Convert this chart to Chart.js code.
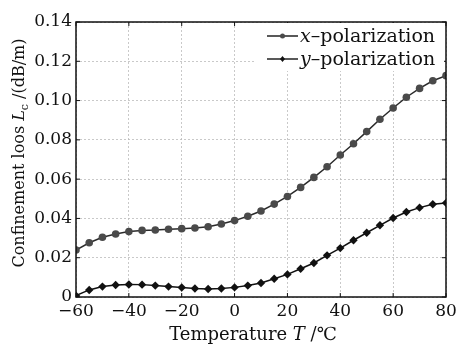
<!DOCTYPE html>
<html>
<head>
<meta charset="utf-8">
<script src="https://cdn.jsdelivr.net/npm/chart.js@4.4.0/dist/chart.umd.min.js"></script>
<style>
  html, body { margin: 0; padding: 0; background: #fff; }
  #wrap { width: 456px; height: 346px; }
</style>
</head>
<body>
<div id="wrap"><canvas id="chart" width="456" height="346"></canvas></div>
<script>
// Temperature (°C), one point every 5 degrees
const temperatures = [-60, -55, -50, -45, -40, -35, -30, -25, -20, -15, -10, -5, 0, 5, 10, 15, 20, 25, 30, 35, 40, 45, 50, 55, 60, 65, 70, 75, 80];

// Confinement loss (dB/m)
const xPolarization = [0.0239, 0.0276, 0.0304, 0.0321, 0.0333, 0.0339, 0.0341, 0.0345, 0.0348, 0.0351, 0.0358, 0.0372, 0.0389, 0.0411, 0.0438, 0.0473, 0.0512, 0.0558, 0.0609, 0.0663, 0.0723, 0.0780, 0.0842, 0.0905, 0.0962, 0.1017, 0.1062, 0.1101, 0.1127];
const yPolarization = [0.0007, 0.0036, 0.0053, 0.0061, 0.0064, 0.0063, 0.0058, 0.0053, 0.0048, 0.0043, 0.0041, 0.0043, 0.0049, 0.0058, 0.0071, 0.0093, 0.0115, 0.0144, 0.0173, 0.0212, 0.0249, 0.0289, 0.0327, 0.0365, 0.0402, 0.0433, 0.0455, 0.0472, 0.0479];

const xTicks = [-60, -40, -20, 0, 20, 40, 60, 80];
const yTicks = [0, 0.02, 0.04, 0.06, 0.08, 0.10, 0.12, 0.14];

const FONT = '"DejaVu Serif", "Liberation Serif", serif';

// Frame, inward ticks, axis titles and legend
const decorations = {
    id: 'decorations',
    afterDraw(chart) {
        const ctx = chart.ctx;
        const a = chart.chartArea;
        const xs = chart.scales.x, ys = chart.scales.y;
        ctx.save();

        // frame
        ctx.strokeStyle = '#111';
        ctx.lineWidth = 1.5;
        ctx.strokeRect(a.left, a.top, a.right - a.left, a.bottom - a.top);

        // inward ticks
        ctx.lineWidth = 1;
        xTicks.forEach(t => {
            const px = xs.getPixelForValue(t);
            ctx.beginPath();
            ctx.moveTo(px, a.bottom); ctx.lineTo(px, a.bottom - 4);
            ctx.moveTo(px, a.top); ctx.lineTo(px, a.top + 4);
            ctx.stroke();
        });
        yTicks.forEach(t => {
            const py = ys.getPixelForValue(t);
            ctx.beginPath();
            ctx.moveTo(a.left, py); ctx.lineTo(a.left + 4, py);
            ctx.moveTo(a.right, py); ctx.lineTo(a.right - 4, py);
            ctx.stroke();
        });

        ctx.fillStyle = '#111';
        ctx.textBaseline = 'alphabetic';

        // x title
        const xParts = [['Temperature ', 'normal'], ['T', 'italic'], [' /℃', 'normal']];
        drawParts(ctx, xParts, 18, 253, 340, 'center');

        // y title (rotated)
        ctx.save();
        ctx.translate(24, 153);
        ctx.rotate(-Math.PI / 2);
        const size = 16;
        const parts = [['Confinement loos ', 'normal', size], ['L', 'italic', size], ['c', 'normal', 11, 4], [' /(dB/m)', 'normal', size]];
        let total = 0;
        parts.forEach(p => { ctx.font = p[1] + ' ' + p[2] + 'px ' + FONT; total += ctx.measureText(p[0]).width; });
        let x = -total / 2;
        ctx.textAlign = 'left';
        parts.forEach(p => {
            ctx.font = p[1] + ' ' + p[2] + 'px ' + FONT;
            ctx.fillText(p[0], x, p[3] || 0);
            x += ctx.measureText(p[0]).width;
        });
        ctx.restore();

        // legend
        const lx = a.right - 1, ly = a.top + 1;
        ctx.fillStyle = '#fff';
        ctx.fillRect(lx - 190, ly, 189, 48);
        const entries = [
            { sym: 'x', dash: 'circle', color: '#4a4a4a', y: ly + 13 },
            { sym: 'y', dash: 'diamond', color: '#111', y: ly + 36 }
        ];
        entries.forEach(e => {
            const x0 = 267, x1 = x0 + 31;
            ctx.strokeStyle = '#222';
            ctx.lineWidth = 1.5;
            ctx.beginPath(); ctx.moveTo(x0, e.y); ctx.lineTo(x1, e.y); ctx.stroke();
            ctx.fillStyle = e.color;
            ctx.beginPath();
            if (e.dash === 'circle') {
                ctx.arc((x0 + x1) / 2, e.y, 2.5, 0, Math.PI * 2);
            } else {
                const cx = (x0 + x1) / 2;
                ctx.moveTo(cx, e.y - 3); ctx.lineTo(cx + 2.5, e.y); ctx.lineTo(cx, e.y + 3); ctx.lineTo(cx - 2.5, e.y);
                ctx.closePath();
            }
            ctx.fill();
            ctx.fillStyle = '#111';
            drawParts(ctx, [[e.sym, 'italic'], ['–polarization', 'normal']], 19, x1 + 2, e.y + 6, 'left');
        });

        ctx.restore();
    }
};

function drawParts(ctx, parts, size, x, y, align) {
    let total = 0;
    parts.forEach(p => { ctx.font = p[1] + ' ' + size + 'px ' + FONT; total += ctx.measureText(p[0]).width; });
    let cx = align === 'center' ? x - total / 2 : x;
    ctx.textAlign = 'left';
    parts.forEach(p => {
        ctx.font = p[1] + ' ' + size + 'px ' + FONT;
        ctx.fillText(p[0], cx, y);
        cx += ctx.measureText(p[0]).width;
    });
}

new Chart(document.getElementById('chart'), {
    type: 'line',
    data: {
        datasets: [{
            label: 'x-polarization',
            data: temperatures.map((t, i) => ({ x: t, y: xPolarization[i] })),
            borderColor: '#2a2a2a',
            backgroundColor: '#4a4a4a',
            borderWidth: 1.5,
            pointStyle: 'circle',
            pointRadius: 3.8,
            pointBorderWidth: 0,
            tension: 0
        }, {
            label: 'y-polarization',
            data: temperatures.map((t, i) => ({ x: t, y: yPolarization[i] })),
            borderColor: '#111',
            backgroundColor: '#111',
            borderWidth: 1.5,
            pointStyle: 'rectRot',
            pointRadius: 4.2,
            pointBorderWidth: 0,
            tension: 0
        }]
    },
    options: {
        responsive: false,
        animation: false,
        layout: { padding: { top: 22, right: 10, left: 0, bottom: 0 } },
        plugins: { legend: { display: false }, tooltip: { enabled: false } },
        scales: {
            x: {
                type: 'linear',
                min: -60, max: 80,
                afterBuildTicks: s => { s.ticks = xTicks.map(v => ({ value: v })); },
                afterFit: s => { s.height = 49; s.paddingLeft = 0; s.paddingRight = 0; },
                grid: { color: '#bbb', lineWidth: 0.8, drawTicks: false },
                border: { display: false, dash: [2, 2] },
                ticks: {
                    color: '#111', padding: 4,
                    font: { family: FONT, size: 17 },
                    callback: v => (v < 0 ? '−' + Math.abs(v) : String(v))
                }
            },
            y: {
                min: 0, max: 0.14,
                afterBuildTicks: s => { s.ticks = yTicks.map(v => ({ value: v })); },
                afterFit: s => { s.width = 76; },
                grid: { color: '#bbb', lineWidth: 0.8, drawTicks: false },
                border: { display: false, dash: [2, 2] },
                ticks: {
                    color: '#111', padding: 4,
                    font: { family: FONT, size: 17 },
                    callback: v => (v === 0 ? '0' : v.toFixed(2))
                }
            }
        }
    },
    plugins: [decorations]
});
</script>
</body>
</html>
